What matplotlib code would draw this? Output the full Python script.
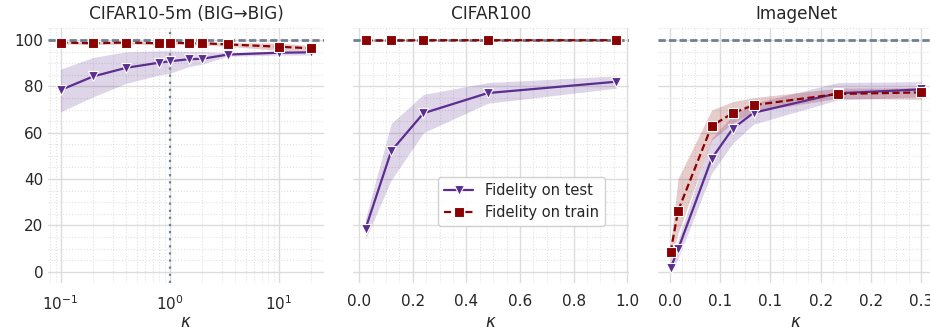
import numpy as np
import matplotlib
matplotlib.use("Agg")
import matplotlib.pyplot as plt
import matplotlib.ticker as mticker
import seaborn as sns

sns.set_theme(style="whitegrid")
plt.rcParams['font.family'] = ['DejaVu Sans']

# CIFAR10-5m (BIG->BIG)
c10_k = [0.1, 0.2, 0.4, 0.8, 1.0, 1.5, 2.0, 3.4, 10, 20]
c10_test = [78.4, 84.3, 88.0, 90.2, 90.8, 91.7, 91.9, 93.7, 94.5, 94.7]
c10_test_lo = [69.0, 75.5, 81.3, 84.9, 85.6, 88.5, 89.6, 93.0, 93.5, 93.5]
c10_test_hi = [87.4, 92.5, 94.9, 95.3, 95.3, 95.0, 95.0, 94.5, 95.3, 95.3]
c10_train = [98.9, 98.6, 98.9, 98.6, 98.9, 98.6, 98.6, 98.1, 97.1, 96.4]
c10_train_lo = [98.3, 98.0, 98.3, 98.0, 98.2, 98.0, 97.8, 97.3, 95.5, 95.5]
c10_train_hi = [99.4, 99.2, 99.4, 99.2, 99.5, 99.2, 99.3, 98.8, 98.7, 97.5]

# CIFAR100
c100_k = [0.024, 0.12, 0.24, 0.48, 0.96]
c100_test = [18.6, 52.1, 68.4, 77.1, 82.0]
c100_test_lo = [14.0, 39.6, 60.0, 72.7, 79.2]
c100_test_hi = [23.0, 64.0, 76.5, 81.6, 84.5]
c100_train = [99.8, 99.8, 99.9, 99.9, 99.9]
c100_train_lo = [99.6, 99.6, 99.7, 99.7, 99.7]
c100_train_hi = [100.0, 100.0, 100.0, 100.0, 100.0]

# ImageNet
in_k = [0.001, 0.01, 0.05, 0.075, 0.1, 0.2, 0.3]
in_test = [1.5, 9.7, 48.8, 61.7, 68.6, 77.0, 78.7]
in_test_lo = [-1.0, 5.8, 42.5, 55.4, 63.7, 74.1, 75.5]
in_test_hi = [4.0, 13.7, 57.6, 67.6, 72.7, 81.6, 82.0]
in_train = [8.4, 26.3, 62.9, 68.4, 71.9, 76.7, 77.4]
in_train_lo = [4.0, 16.6, 56.8, 64.0, 69.1, 74.8, 74.4]
in_train_hi = [11.5, 40.3, 69.8, 73.4, 75.1, 79.2, 79.4]

titles = ["CIFAR10-5m (BIG→BIG)", "CIFAR100", "ImageNet"]
in_ticks = [0.0, 0.06, 0.12, 0.18, 0.24, 0.30]

test_c = "#5b2d91"
train_c = "#8b0000"
ref_c = "#6f8092"

panels = [
    (c10_k, c10_test, c10_test_lo, c10_test_hi, c10_train, c10_train_lo, c10_train_hi),
    (c100_k, c100_test, c100_test_lo, c100_test_hi, c100_train, c100_train_lo, c100_train_hi),
    (in_k, in_test, in_test_lo, in_test_hi, in_train, in_train_lo, in_train_hi),
]

fig = plt.figure(figsize=(9.3, 3.31), dpi=100)
W, H = 930, 331
axes = []
for i in range(3):
    left = 48 + i * 305
    ax = fig.add_axes([left / W, 1 - 283.3 / H, 276 / W, (283.3 - 28.4) / H],
                      sharey=axes[0] if axes else None)
    axes.append(ax)

for i, (ax, p) in enumerate(zip(axes, panels)):
    k, te, te_lo, te_hi, tr, tr_lo, tr_hi = p
    ax.axhline(100, color=ref_c, ls=(0, (2.6, 1.2)), lw=2, zorder=1)
    ax.fill_between(k, te_lo, te_hi, color=test_c, alpha=0.2, lw=0)
    ax.fill_between(k, tr_lo, tr_hi, color=train_c, alpha=0.2, lw=0)
    ax.plot(k, te, color=test_c, ls='-', lw=1.6, marker='v', ms=7,
            mec='white', mew=0.8, label="Fidelity on test", zorder=4)
    ax.plot(k, tr, color=train_c, ls=(0, (3.2, 1.6)), lw=1.6, marker='s', ms=7,
            mec='white', mew=0.8, label="Fidelity on train", zorder=5)
    ax.set_title(titles[i], fontsize=12.2, color='#262626', pad=7)
    ax.set_xlabel(r"$\kappa$", fontsize=12, color='#262626', va='baseline')
    ax.xaxis.set_label_coords(0.5, -0.172)
    for s in ax.spines.values():
        s.set_visible(False)
    ax.grid(which='major', color='#dcdcdc', lw=1.0)
    ax.grid(which='minor', color='#e2e2e2', lw=0.8, ls=':')
    ax.tick_params(which='both', length=0, labelsize=11, colors='#262626')
    ax.tick_params(axis='x', pad=8)
    ax.yaxis.set_minor_locator(mticker.AutoMinorLocator())

axes[0].set_xscale('log')
axes[0].axvline(1.0, color=ref_c, ls=(0, (1, 2.2)), lw=1.6, zorder=2)
axes[0].xaxis.set_minor_locator(mticker.LogLocator(subs=np.arange(2, 10)))
axes[0].xaxis.set_minor_formatter(mticker.NullFormatter())
axes[0].set_ylim(-5, 105)
axes[0].set_yticks([0, 20, 40, 60, 80, 100])

axes[1].set_xticks([0.0, 0.2, 0.4, 0.6, 0.8, 1.0])
axes[1].xaxis.set_major_formatter(mticker.FormatStrFormatter('%.1f'))
axes[1].xaxis.set_minor_locator(mticker.AutoMinorLocator())

axes[2].set_xticks(in_ticks)
axes[2].xaxis.set_major_formatter(mticker.FormatStrFormatter('%.1f'))
axes[2].xaxis.set_minor_locator(mticker.AutoMinorLocator())

for ax in axes[1:]:
    plt.setp(ax.get_yticklabels(), visible=False)

axes[1].legend(loc='center', bbox_to_anchor=(0.61, 0.32), fontsize=10.5,
               frameon=True, fancybox=True, framealpha=0.9, borderpad=0.4,
               handlelength=2.0)

fig.savefig("out.png", dpi=100)
